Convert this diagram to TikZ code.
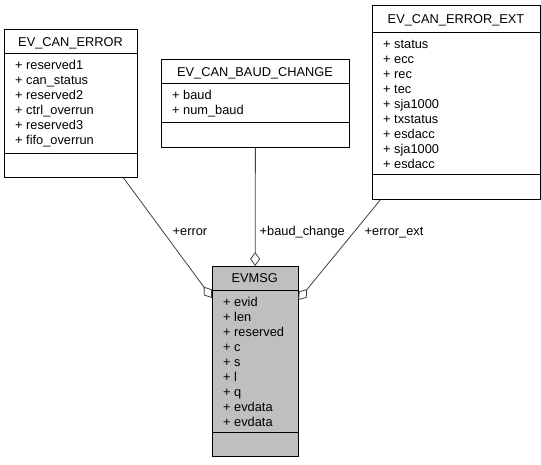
\documentclass[tikz,border=0pt]{standalone}
\usepackage{fontspec}
\setmainfont{Liberation Sans}
\usetikzlibrary{arrows.meta}
\begin{document}
\begin{tikzpicture}[x=1pt,y=-1pt,
  font=\fontsize{12.8}{15}\selectfont,
  classbox/.style={draw=black,line width=0.8pt,inner sep=0pt,anchor=north west},
  sep/.style={draw=black,line width=0.8pt},
  title/.style={anchor=base,inner sep=0pt},
  attr/.style={anchor=base west,inner sep=0pt},
  edge/.style={draw=black!75,line width=0.8pt,
    -{Diamond[length=14pt,width=10pt,fill=white,line width=0.8pt]}},
  elabel/.style={anchor=base west,inner sep=0pt}]
\useasboundingbox (0,0) rectangle (541,464);

% EV_CAN_ERROR
\node[classbox,minimum width=133pt,minimum height=148pt] (canerr) at (4,29) {};
\draw[sep] ([yshift=-24.5pt]canerr.north west) -- ([yshift=-24.5pt]canerr.north east);
\draw[sep] ([yshift=24.5pt]canerr.south west) -- ([yshift=24.5pt]canerr.south east);
\node[title] (canerrT) at (70.5,46) {EV\_CAN\_ERROR};
\node[attr] (ce1) at (15,69) {+ reserved1};
\node[attr] (ce2) at (15,84) {+ can\_status};
\node[attr] (ce3) at (15,99) {+ reserved2};
\node[attr] (ce4) at (15,114) {+ ctrl\_overrun};
\node[attr] (ce5) at (15,129) {+ reserved3};
\node[attr] (ce6) at (15,144) {+ fifo\_overrun};

% EV_CAN_BAUD_CHANGE
\node[classbox,minimum width=188pt,minimum height=88.5pt] (baud) at (161,58.5) {};
\draw[sep] ([yshift=-25pt]baud.north west) -- ([yshift=-25pt]baud.north east);
\draw[sep] ([yshift=25.5pt]baud.south west) -- ([yshift=25.5pt]baud.south east);
\node[title] (baudT) at (255,76) {EV\_CAN\_BAUD\_CHANGE};
\node[attr] (b1) at (172,99) {+ baud};
\node[attr] (b2) at (172,114) {+ num\_baud};

% EV_CAN_ERROR_EXT
\node[classbox,minimum width=168pt,minimum height=194pt] (ext) at (372,5) {};
\draw[sep] ([yshift=-27.5pt]ext.north west) -- ([yshift=-27.5pt]ext.north east);
\draw[sep] ([yshift=25.5pt]ext.south west) -- ([yshift=25.5pt]ext.south east);
\node[title] (extT) at (456,23.5) {EV\_CAN\_ERROR\_EXT};
\node[attr] (x1) at (383,48) {+ status};
\node[attr] (x2) at (383,63) {+ ecc};
\node[attr] (x3) at (383,78) {+ rec};
\node[attr] (x4) at (383,93) {+ tec};
\node[attr] (x5) at (383,108) {+ sja1000};
\node[attr] (x6) at (383,123) {+ txstatus};
\node[attr] (x7) at (383,138) {+ esdacc};
\node[attr] (x8) at (383,153) {+ sja1000};
\node[attr] (x9) at (383,168) {+ esdacc};

% EVMSG
\node[classbox,fill=black!25,minimum width=85.5pt,minimum height=190pt] (evmsg) at (212,266) {};
\draw[sep] ([yshift=-24.5pt]evmsg.north west) -- ([yshift=-24.5pt]evmsg.north east);
\draw[sep] ([yshift=24pt]evmsg.south west) -- ([yshift=24pt]evmsg.south east);
\node[title] (evmsgT) at (254.75,282.5) {EVMSG};
\node[attr] (m1) at (223,306) {+ evid};
\node[attr] (m2) at (223,321) {+ len};
\node[attr] (m3) at (223,336) {+ reserved};
\node[attr] (m4) at (223,351) {+ c};
\node[attr] (m5) at (223,366) {+ s};
\node[attr] (m6) at (223,381) {+ l};
\node[attr] (m7) at (223,396) {+ q};
\node[attr] (m8) at (223,411) {+ evdata};
\node[attr] (m9) at (223,426) {+ evdata};

% aggregation connectors
\draw[edge] ([xshift=52.5pt]canerr.south) -- ([yshift=-32pt]evmsg.north west);
\draw[edge] (baud.south) -- (evmsg.north);
\draw[edge] ([xshift=-76pt]ext.south) -- ([yshift=-34pt]evmsg.north east);

\node[elabel] (lerr) at (172.5,235) {+error};
\node[elabel] (lbaud) at (259.5,235) {+baud\_change};
\node[elabel] (lext) at (364.5,235) {+error\_ext};
\end{tikzpicture}
\end{document}
